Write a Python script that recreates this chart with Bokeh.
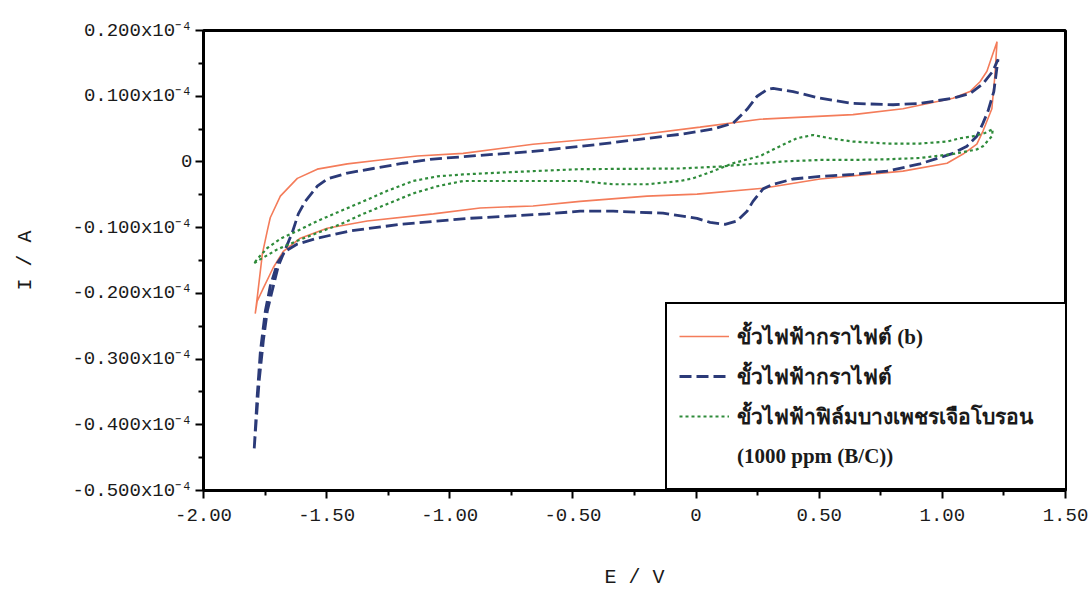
from bokeh.plotting import figure
from bokeh.models import Range1d, FixedTicker, Legend, LegendItem
from bokeh.embed import file_html
from bokeh.resources import INLINE

# ---------------- data (E in V, I in units of 10^-4 A) ----------------
# Graphite electrode (b) - orange solid
orange_E = [-1.790, -1.782, -1.761, -1.741, -1.729, -1.688, -1.619, -1.538, -1.416, -1.282,
            -1.132, -0.946, -0.662, -0.239, 0.016, 0.260, 0.637, 0.840, 1.043, 1.112,
            1.153, 1.181, 1.201, 1.222,
            1.213, 1.201, 1.165, 1.140, 1.084, 1.019, 0.840, 0.503, 0.272, 0.004,
            -0.199, -0.471, -0.662, -0.877, -1.067, -1.335, -1.498, -1.607, -1.676, -1.717,
            -1.757, -1.782, -1.790]
orange_I = [-0.231, -0.207, -0.140, -0.105, -0.085, -0.052, -0.025, -0.011, -0.003, 0.003,
            0.009, 0.013, 0.027, 0.041, 0.053, 0.065, 0.072, 0.081, 0.097, 0.107,
            0.122, 0.138, 0.160, 0.183,
            0.130, 0.081, 0.047, 0.027, 0.012, -0.002, -0.014, -0.026, -0.040, -0.049,
            -0.052, -0.060, -0.067, -0.070, -0.079, -0.090, -0.101, -0.116, -0.136, -0.161,
            -0.192, -0.212, -0.231]

# Graphite electrode - navy dashed
blue_E = [-1.794, -1.786, -1.774, -1.757, -1.741, -1.721, -1.696, -1.668, -1.640, -1.615,
          -1.587, -1.538, -1.498, -1.416, -1.311, -1.189, -1.080, -0.877, -0.662, -0.390,
          -0.239, -0.065, 0.069, 0.150, 0.207, 0.248, 0.288, 0.313, 0.394, 0.503,
          0.637, 0.800, 0.909, 1.043, 1.112, 1.165, 1.205, 1.226,
          1.209, 1.185, 1.165, 1.140, 1.100, 1.043, 0.909, 0.775, 0.637, 0.503,
          0.394, 0.313, 0.272, 0.231, 0.207, 0.166, 0.118, 0.057, 0.004, -0.134,
          -0.337, -0.471, -0.605, -0.743, -0.929, -1.201, -1.404, -1.538, -1.619, -1.668,
          -1.700, -1.729, -1.749, -1.769, -1.782, -1.794]
blue_I = [-0.436, -0.394, -0.333, -0.272, -0.227, -0.196, -0.158, -0.133, -0.108, -0.079,
          -0.060, -0.037, -0.026, -0.017, -0.010, -0.002, 0.004, 0.010, 0.016, 0.027,
          0.034, 0.042, 0.050, 0.059, 0.080, 0.100, 0.110, 0.112, 0.107, 0.097,
          0.089, 0.087, 0.089, 0.097, 0.104, 0.119, 0.138, 0.156,
          0.107, 0.077, 0.059, 0.039, 0.024, 0.013, -0.003, -0.014, -0.019, -0.022,
          -0.026, -0.034, -0.041, -0.060, -0.075, -0.090, -0.095, -0.092, -0.086, -0.078,
          -0.075, -0.075, -0.079, -0.082, -0.086, -0.095, -0.105, -0.116, -0.125, -0.136,
          -0.154, -0.189, -0.227, -0.288, -0.356, -0.436]

# Boron-doped diamond thin film electrode (1000 ppm B/C) - green dotted
green_E = [-1.794, -1.782, -1.700, -1.619, -1.538, -1.445, -1.351, -1.254, -1.149, -1.051,
           -0.946, -0.836, -0.662, -0.471, -0.337, -0.199, -0.065, -0.012, 0.069, 0.150,
           0.260, 0.341, 0.410, 0.475, 0.544, 0.637, 0.775, 0.909, 1.019, 1.071,
           1.124, 1.173, 1.205,
           1.201, 1.165, 1.140, 1.043, 0.909, 0.775, 0.637, 0.503, 0.369, 0.231,
           0.097, -0.065, -0.471, -0.662, -0.836, -0.946, -1.051, -1.149, -1.254, -1.351,
           -1.445, -1.538, -1.619, -1.688, -1.741, -1.782, -1.794]
green_I = [-0.154, -0.151, -0.133, -0.120, -0.108, -0.095, -0.079, -0.064, -0.048, -0.037,
           -0.029, -0.029, -0.029, -0.029, -0.034, -0.034, -0.029, -0.025, -0.014, -0.002,
           0.009, 0.024, 0.036, 0.041, 0.036, 0.031, 0.028, 0.028, 0.031, 0.036,
           0.039, 0.044, 0.050,
           0.039, 0.024, 0.019, 0.012, 0.006, 0.004, 0.003, 0.003, 0.001, -0.003,
           -0.007, -0.010, -0.011, -0.014, -0.017, -0.019, -0.022, -0.029, -0.044, -0.060,
           -0.075, -0.090, -0.105, -0.117, -0.131, -0.148, -0.154]

legend_labels = ["ขั้วไฟฟ้ากราไฟต์ (b)", "ขั้วไฟฟ้ากราไฟต์",
                 "ขั้วไฟฟ้าฟิล์มบางเพชรเจือโบรอน", "(1000 ppm (B/C))"]

x_ticks = [-2.0, -1.5, -1.0, -0.5, 0.0, 0.5, 1.0, 1.5]
x_tick_labels = ["-2.00", "-1.50", "-1.00", "-0.50", "0", "0.50", "1.00", "1.50"]
y_ticks = [-0.5, -0.4, -0.3, -0.2, -0.1, 0.0, 0.1, 0.2]
y_tick_labels = ["-0.500x10⁻⁴", "-0.400x10⁻⁴", "-0.300x10⁻⁴", "-0.200x10⁻⁴",
                 "-0.100x10⁻⁴", "0", "0.100x10⁻⁴", "0.200x10⁻⁴"]

# ---------------- figure ----------------
TICK_FONT = "Liberation Mono"

p = figure(frame_width=862, frame_height=460,
           x_range=Range1d(-2.0, 1.5), y_range=Range1d(-0.5, 0.2),
           output_backend="svg", toolbar_location=None,
           min_border_left=203, min_border_right=23,
           min_border_top=30, min_border_bottom=107,
           background_fill_color="white", border_fill_color="white")

p.xgrid.visible = False
p.ygrid.visible = False
p.outline_line_color = "black"
p.outline_line_alpha = 1.0
p.outline_line_width = 3

def minors(t):
    return [(a + b) / 2 for a, b in zip(t[:-1], t[1:])]

p.xaxis.ticker = FixedTicker(ticks=x_ticks, minor_ticks=minors(x_ticks))
p.yaxis.ticker = FixedTicker(ticks=y_ticks, minor_ticks=minors(y_ticks))
p.xaxis.major_label_overrides = dict(zip(x_ticks, x_tick_labels))
p.yaxis.major_label_overrides = dict(zip(y_ticks, y_tick_labels))

for ax in (p.xaxis[0], p.yaxis[0]):
    ax.axis_line_color = "black"
    ax.axis_line_width = 2.5
    ax.major_tick_line_color = "black"
    ax.major_tick_line_width = 2
    ax.major_tick_in = 0
    ax.major_tick_out = 8
    ax.minor_tick_line_color = "black"
    ax.minor_tick_line_width = 2
    ax.minor_tick_in = 0
    ax.minor_tick_out = 5
    ax.major_label_text_font = TICK_FONT
    ax.major_label_text_font_size = "19px"
    ax.major_label_text_color = "#1a1a1a"
    ax.axis_label_text_font = TICK_FONT
    ax.axis_label_text_font_size = "20px"
    ax.axis_label_text_font_style = "normal"
    ax.axis_label_text_color = "#1a1a1a"

p.xaxis.axis_label = "E / V"
p.xaxis.major_label_standoff = 10
p.xaxis.axis_label_standoff = 42
p.yaxis.axis_label = "I / A"
p.yaxis.major_label_standoff = 3
p.yaxis.axis_label_standoff = 32

r_orange = p.line(orange_E, orange_I, line_color="#F47C5A", line_width=1.6)
r_blue = p.line(blue_E, blue_I, line_color="#2B3A78", line_width=2.8, line_dash="12 5")
r_green = p.line(green_E, green_I, line_color="#2E8B3A", line_width=2.2, line_dash="3 3")
r_blank = p.line([], [], line_alpha=0)

legend = Legend(items=[
    LegendItem(label=legend_labels[0], renderers=[r_orange]),
    LegendItem(label=legend_labels[1], renderers=[r_blue]),
    LegendItem(label=legend_labels[2], renderers=[r_green]),
    LegendItem(label=legend_labels[3], renderers=[r_blank]),
], location=(462, 0))
legend.border_line_color = "black"
legend.border_line_alpha = 1.0
legend.border_line_width = 2.5
legend.background_fill_color = "white"
legend.background_fill_alpha = 1
legend.padding = 12
legend.spacing = 0
legend.margin = 0
legend.glyph_width = 50
legend.glyph_height = 40
legend.label_height = 40
legend.label_width = 318
legend.label_standoff = 8
legend.label_text_font = "Liberation Serif"
legend.label_text_font_style = "bold"
legend.label_text_font_size = "21px"
legend.label_text_color = "#1a1a1a"
p.add_layout(legend, "center")

open("out.html", "w").write(file_html(p, INLINE))
